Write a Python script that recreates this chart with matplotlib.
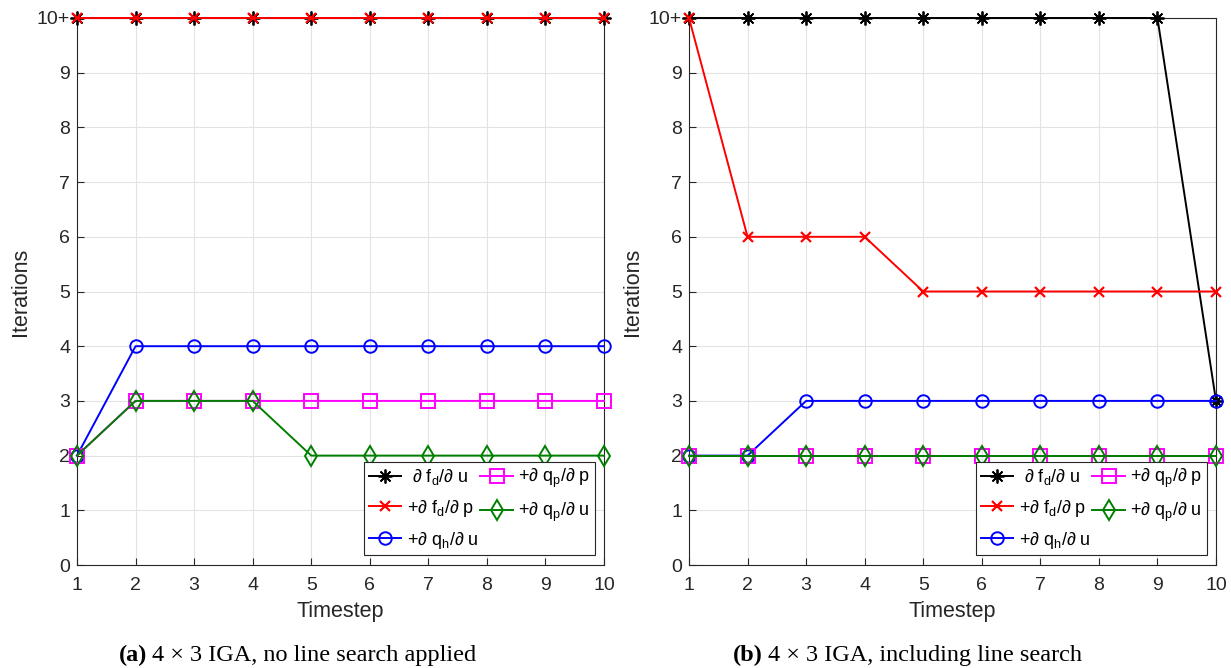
import matplotlib
matplotlib.use("Agg")
import matplotlib.pyplot as plt

plt.rcParams['font.family'] = ['Liberation Sans', 'DejaVu Sans']
plt.rcParams['mathtext.fontset'] = 'custom'
plt.rcParams['mathtext.rm'] = 'Liberation Sans'

timesteps = [1, 2, 3, 4, 5, 6, 7, 8, 9, 10]

# Panel (a): no line search
a_fdu = [10, 10, 10, 10, 10, 10, 10, 10, 10, 10]
a_fdp = [10, 10, 10, 10, 10, 10, 10, 10, 10, 10]
a_qhu = [2, 4, 4, 4, 4, 4, 4, 4, 4, 4]
a_qpp = [2, 3, 3, 3, 3, 3, 3, 3, 3, 3]
a_qpu = [2, 3, 3, 3, 2, 2, 2, 2, 2, 2]

# Panel (b): with line search
b_fdu = [10, 10, 10, 10, 10, 10, 10, 10, 10, 3]
b_fdp = [10, 6, 6, 6, 5, 5, 5, 5, 5, 5]
b_qhu = [2, 2, 3, 3, 3, 3, 3, 3, 3, 3]
b_qpp = [2, 2, 2, 2, 2, 2, 2, 2, 2, 2]
b_qpu = [2, 2, 2, 2, 2, 2, 2, 2, 2, 2]

yticks = list(range(0, 11))
yticklabels = [str(v) for v in range(0, 10)] + ['10+']

labels = [
    " ∂ f$_{\\mathregular{d}}$/∂ u",
    "+∂ f$_{\\mathregular{d}}$/∂ p",
    "+∂ q$_{\\mathregular{h}}$/∂ u",
    "+∂ q$_{\\mathregular{p}}$/∂ p",
    "+∂ q$_{\\mathregular{p}}$/∂ u",
]
captions = [("(a)", "4 × 3 IGA, no line search applied"),
            ("(b)", "4 × 3 IGA, including line search")]

fig = plt.figure(figsize=(12.31, 6.68), dpi=100)
ax1 = fig.add_axes([77/1231, 1-565/668, 527/1231, 547/668])
ax2 = fig.add_axes([689/1231, 1-565/668, 527/1231, 547/668])

spine_c = '#262626'
lw = 1.4
for ax, data in [(ax1, (a_fdu, a_fdp, a_qhu, a_qpp, a_qpu)),
                 (ax2, (b_fdu, b_fdp, b_qhu, b_qpp, b_qpu))]:
    fdu, fdp, qhu, qpp, qpu = data
    h1, = ax.plot(timesteps, fdu, color='black', marker=(8, 2, 0), ms=10, mew=1.3, lw=lw, clip_on=False, zorder=3)
    h2, = ax.plot(timesteps, fdp, color='red', marker='x', ms=7, mew=1.6, lw=lw, clip_on=False, zorder=4)
    h3, = ax.plot(timesteps, qhu, color='blue', marker='o', ms=9, mfc='none', mew=1.4, lw=lw, clip_on=False, zorder=3)
    h4, = ax.plot(timesteps, qpp, color='magenta', marker='s', ms=10, mfc='none', mew=1.4, lw=lw, clip_on=False, zorder=3)
    h5, = ax.plot(timesteps, qpu, color='green', marker='d', ms=10, mfc='none', mew=1.4, lw=lw, clip_on=False, zorder=3)
    ax.set_xlim(1, 10)
    ax.set_ylim(0, 10)
    ax.set_xticks(timesteps)
    ax.set_yticks(yticks)
    ax.set_yticklabels(yticklabels)
    ax.grid(True, color='#e3e3e3', lw=0.8)
    ax.set_axisbelow(True)
    for s in ax.spines.values():
        s.set_color(spine_c)
        s.set_linewidth(0.8)
    ax.tick_params(direction='in', length=5, width=0.8, color=spine_c,
                   labelsize=14, labelcolor='#262626', pad=5, top=False, right=False)
    ax.tick_params(axis='x', pad=9)
    ax.set_xlabel('Timestep', fontsize=15.5, color='#262626', labelpad=5)
    ax.set_ylabel('Iterations', fontsize=15.5, color='#262626', labelpad=4)
    leg = ax.legend([h1, h2, h3, h4, h5], labels, ncol=2, loc='lower right',
                    bbox_to_anchor=(0.983, 0.018), fontsize=13, fancybox=False,
                    edgecolor=spine_c, framealpha=1, handlelength=1.8,
                    columnspacing=0.1, handletextpad=0.3, borderpad=0.25,
                    labelspacing=0.6, borderaxespad=0)
    leg.get_frame().set_linewidth(0.8)

for (bold, rest), xc in zip(captions, [147/1231, 763/1231]):
    fig.text(xc, 1-661/668, bold, fontsize=17.5, fontweight='bold',
             family='Liberation Serif', ha='right', va='baseline')
    fig.text(xc + 5/1231, 1-661/668, rest, fontsize=17.5,
             family='Liberation Serif', ha='left', va='baseline')

fig.savefig('out.png', dpi=100)
